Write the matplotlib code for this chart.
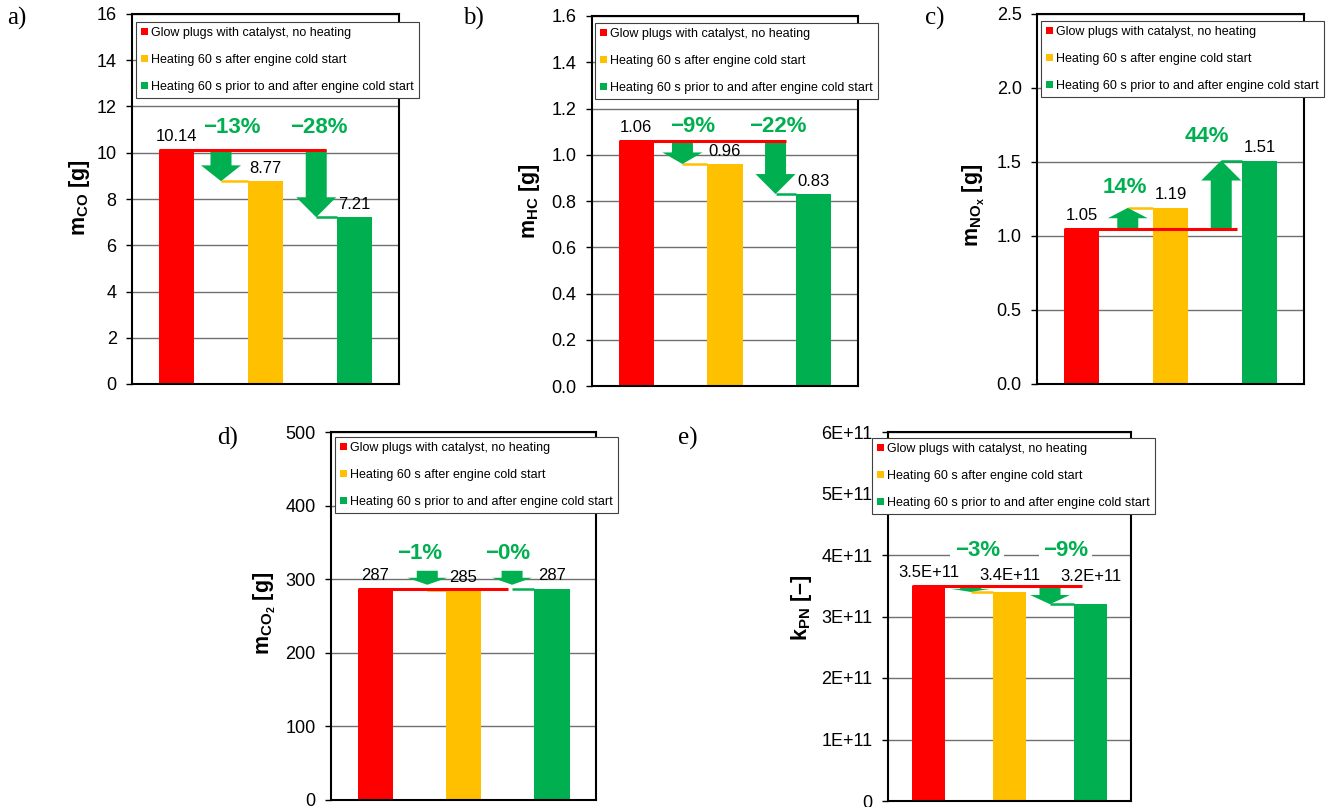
import matplotlib
matplotlib.use("Agg")
import matplotlib.pyplot as plt
from matplotlib.patches import Patch
from matplotlib.ticker import FuncFormatter, MultipleLocator

plt.rcParams["font.family"] = ["Liberation Sans", "DejaVu Sans"]
plt.rcParams["mathtext.fontset"] = "custom"
plt.rcParams["mathtext.rm"] = "Liberation Sans"
plt.rcParams["mathtext.bf"] = "Liberation Sans:bold"
plt.rcParams["mathtext.it"] = "Liberation Sans:italic"

W, H = 1331, 807

# ---- data ------------------------------------------------------------------
SERIES = ["Glow plugs with catalyst, no heating",
          "Heating 60 s after engine cold start",
          "Heating 60 s prior to and after engine cold start"]
COLORS = ["#FF0000", "#FFC000", "#00B050"]
GREEN_TXT = "#00B050"

co_g = [10.14, 8.77, 7.21]
hc_g = [1.06, 0.96, 0.83]
nox_g = [1.05, 1.19, 1.51]
co2_g = [287, 285, 287]
pn = [3.5e11, 3.4e11, 3.2e11]

co_pct = ["\u221213%", "\u221228%"]
hc_pct = ["\u22129%", "\u221222%"]
nox_pct = ["14%", "44%"]
co2_pct = ["\u22121%", "\u22120%"]
pn_pct = ["\u22123%", "\u22129%"]


def fmt_e11(v, _=None):
    return "0" if v == 0 else f"{v / 1e11:.0f}E+11"


def fmt_val_e(v):
    return f"{v:.1E}"


# ---- layout (pixels of the 1331x807 picture) --------------------------------
PANELS = [
    dict(letter="a)", vals=co_g, pct=co_pct, ylabel=r"$\mathbf{m_{CO}}$ [g]",
         ymax=16, step=2, tick=lambda v, _: f"{v:.0f}", val=lambda v: f"{v:.2f}",
         box=(132, 14, 399, 384), leg=(136, 22), ylab=(80, 198), let=(7, 18),
         arrow_x=[1.0, 2.07], red_end=2.18, pct_xy=[(1.12, 11.08), (2.1, 11.08)]),
    dict(letter="b)", vals=hc_g, pct=hc_pct, ylabel=r"$\mathbf{m_{HC}}$ [g]",
         ymax=1.6, step=0.2, tick=lambda v, _: f"{v:.1f}", val=lambda v: f"{v:.2f}",
         box=(592, 16, 858, 386), leg=(595, 23), ylab=(530, 201), let=(463, 18),
         arrow_x=[1.02, 2.07], red_end=2.19, pct_xy=[(1.13, 1.12), (2.1, 1.12)]),
    dict(letter="c)", vals=nox_g, pct=nox_pct, ylabel=r"$\mathbf{m_{NO_x}}$ [g]",
         ymax=2.5, step=0.5, tick=lambda v, _: f"{v:.1f}", val=lambda v: f"{v:.2f}",
         box=(1037, 14, 1304, 384), leg=(1041, 21), ylab=(974, 205), let=(925, 18),
         arrow_x=[1.02, 2.07], red_end=2.25, pct_xy=[(0.99, 1.33), (1.91, 1.67)]),
    dict(letter="d)", vals=co2_g, pct=co2_pct, ylabel=r"$\mathbf{m_{CO_2}}$ [g]",
         ymax=500, step=100, tick=lambda v, _: f"{v:.0f}", val=lambda v: f"{v:.0f}",
         box=(331, 432, 596, 800), leg=(335, 437), ylab=(265, 613), let=(217, 438),
         arrow_x=[1.09, 2.05], red_end=2.0, pct_xy=[(1.0, 335), (2.0, 335)],
         arrow_px=(18, 4)),
    dict(letter="e)", vals=pn, pct=pn_pct, ylabel=r"$\mathbf{k_{PN}}$ [" + "\u2013]",
         ymax=6e11, step=1e11, tick=fmt_e11, val=fmt_val_e,
         box=(888, 432, 1131, 801), leg=(872, 438), ylab=(802, 608), let=(678, 438),
         arrow_x=[1.02, 2.0], red_end=2.4, pct_xy=[(1.1, 4.08e11), (2.19, 4.08e11)],
         val_off=[13, 16, 28]),
]

X = [0.5, 1.5, 2.5]
BAR_W = 0.4


def draw_arrow(ax, x, y0, y1, color, ppx, ppy):
    """Block arrow from y0 to y1 (tip), sizes in pixels."""
    shaft = 10.5 / ppx
    head = 20.0 / ppx
    length_px = abs(y1 - y0) * ppy
    hl = min(0.5 * length_px, 20.0) / ppy
    s = 1 if y1 > y0 else -1
    yb = y1 - s * hl
    xs = [x - shaft, x + shaft, x + shaft, x + head, x, x - head, x - shaft]
    ys = [y0, y0, yb, yb, y1, yb, yb]
    ax.fill(xs, ys, color=color, lw=0, zorder=3)


fig = plt.figure(figsize=(W / 100, H / 100), dpi=100)

for p in PANELS:
    l, t, r, b = p["box"]
    ax = fig.add_axes([l / W, 1 - b / H, (r - l) / W, (b - t) / H])
    vals = p["vals"]
    ax.bar(X, vals, width=BAR_W, color=COLORS, zorder=2)
    ax.set_xlim(0, 3)
    ax.set_ylim(0, p["ymax"])
    ax.set_xticks([])
    ax.yaxis.set_major_locator(MultipleLocator(p["step"]))
    ax.yaxis.set_major_formatter(FuncFormatter(p["tick"]))
    ax.grid(axis="y", color="#707070", lw=1)
    ax.set_axisbelow(True)
    for sp in ax.spines.values():
        sp.set_linewidth(1.5)
        sp.set_color("black")
    ax.tick_params(axis="y", length=4, width=1, pad=7, labelsize=13)

    ppx = (r - l) / 3.0
    ppy = (b - t) / p["ymax"]
    ref = vals[0]

    # reference line of the baseline case
    ax.plot([X[0] - BAR_W / 2, p["red_end"]], [ref, ref], color=COLORS[0],
            lw=2.2, solid_capstyle="butt", zorder=4)

    for i, ax_x in enumerate(p["arrow_x"]):
        target = vals[i + 1]
        ax.plot([ax_x, X[i + 1] - BAR_W / 2], [target, target], color=COLORS[i + 1],
                lw=1.8, solid_capstyle="butt", zorder=3)
        if "arrow_px" in p:
            top_px, tip_px = p["arrow_px"]
            y0, y1 = ref + top_px / ppy, ref + tip_px / ppy
        else:
            y0, y1 = ref, target
        draw_arrow(ax, ax_x, y0, y1, COLORS[2], ppx, ppy)
        px_, py_ = p["pct_xy"][i]
        ax.text(px_, py_, p["pct"][i], color=GREEN_TXT, fontsize=16, fontweight="bold",
                ha="center", va="center", zorder=3.5,
                bbox=dict(fc="white", ec="none", pad=3))

    offs = p.get("val_off", [13, 13, 13])
    for xi, v, o in zip(X, vals, offs):
        ax.annotate(p["val"](v), (xi, v), xytext=(0, o * 0.72), textcoords="offset points",
                    ha="center", va="center", fontsize=12, zorder=5)

    handles = [Patch(facecolor=c, edgecolor="none") for c in COLORS]
    lx, ly = p["leg"]
    leg = ax.legend(handles, SERIES, loc="upper left",
                    bbox_to_anchor=((lx - l) / (r - l), 1 - (ly - t) / (b - t)),
                    borderaxespad=0, frameon=True, fancybox=False, framealpha=1,
                    edgecolor="#404040", fontsize=9, handlelength=0.55,
                    handleheight=0.55, handletextpad=0.25, labelspacing=1.2,
                    borderpad=0.4)
    leg.get_frame().set_linewidth(0.8)

    yx, yy = p["ylab"]
    ax.text((yx - l) / (r - l), 1 - (yy - t) / (b - t), p["ylabel"], transform=ax.transAxes,
            rotation=90, ha="center", va="center", fontsize=15.5, fontweight="bold")

    fx, fy = p["let"]
    fig.text(fx / W, 1 - fy / H, p["letter"], family="Liberation Serif", fontsize=18,
             ha="left", va="center")

fig.savefig("out.png", dpi=100)
